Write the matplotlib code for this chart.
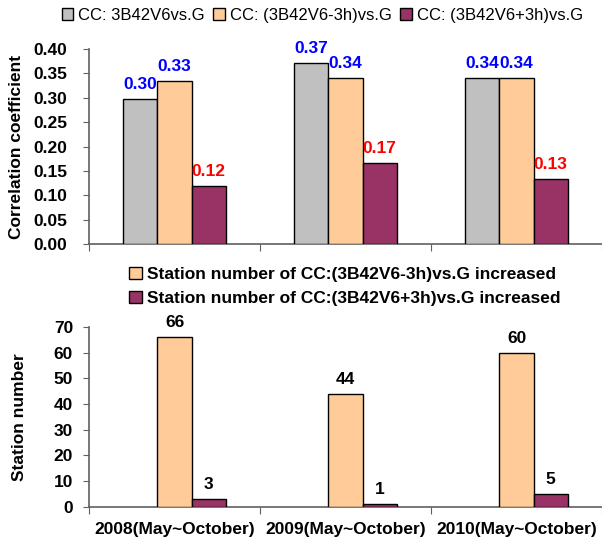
import matplotlib
matplotlib.use("Agg")
import matplotlib.pyplot as plt
import numpy as np

# data
periods = ["2008(May~October)", "2009(May~October)", "2010(May~October)"]
cc_names = ["CC: 3B42V6vs.G", "CC: (3B42V6-3h)vs.G", "CC: (3B42V6+3h)vs.G"]
cc_base = [0.298, 0.372, 0.34]
cc_minus3h = [0.334, 0.34, 0.34]
cc_plus3h = [0.12, 0.167, 0.134]
cc_text = [["0.30", "0.37", "0.34"], ["0.33", "0.34", "0.34"], ["0.12", "0.17", "0.13"]]

st_names = ["Station number of CC:(3B42V6-3h)vs.G increased",
            "Station number of CC:(3B42V6+3h)vs.G increased"]
st_minus3h = [66, 44, 60]
st_plus3h = [3, 1, 5]

colors = ["#C0C0C0", "#FFCC99", "#993366"]
label_colors = ["#0000FF", "#0000FF", "#FF0000"]

plt.rcParams['font.family'] = ['Liberation Sans Narrow', 'Liberation Sans', 'DejaVu Sans']

fig = plt.figure(figsize=(6.02, 5.39), dpi=100)
ax1 = fig.add_axes([0.148, 0.547, 0.852, 0.362])
ax2 = fig.add_axes([0.148, 0.060, 0.852, 0.333])

x = np.arange(len(periods))
w = 0.2
fs = 12.5


def style_axis(ax, ymax, step, fmt, pad):
    for s in ["top", "right"]:
        ax.spines[s].set_visible(False)
    ax.spines["bottom"].set_color("#606060")
    ax.spines["left"].set_color("#606060")
    ax.spines["bottom"].set_linewidth(1.2)
    ax.spines["left"].set_linewidth(1.2)
    ax.set_xlim(-0.5, 2.48)
    ax.set_ylim(0, ymax)
    ax.set_yticks(np.arange(0, ymax + step / 2, step))
    ax.set_yticklabels([fmt % v for v in np.arange(0, ymax + step / 2, step)],
                       fontsize=fs, fontweight="bold")
    ax.set_xticks([-0.5, 0.5, 1.5, 2.5])
    ax.set_xticks(x, minor=True)
    ax.tick_params(axis="x", which="major", length=5, direction="out", color="#606060", labelbottom=False)
    ax.tick_params(axis="x", which="minor", length=0)
    ax.tick_params(axis="y", length=4.5, direction="out", color="#606060", pad=pad)


# top chart: correlation coefficients
series = [cc_base, cc_minus3h, cc_plus3h]
for i, vals in enumerate(series):
    pos = x + (i - 1) * w
    ax1.bar(pos, vals, w, color=colors[i], edgecolor="black", linewidth=1.0,
            label=cc_names[i], zorder=3)
    for p, v, t in zip(pos, vals, cc_text[i]):
        ax1.annotate(t, (p, v), xytext=(0, 5), textcoords="offset points",
                     ha="center", va="bottom", color=label_colors[i],
                     fontsize=fs, fontweight="bold")
style_axis(ax1, 0.40, 0.05, "%.2f", 11)
ax1.set_ylabel("Correlation coefficient", fontsize=fs, fontweight="bold")
ax1.yaxis.set_label_coords(-0.127, 0.5)
ax1.legend(loc="lower center", bbox_to_anchor=(0.455, 1.1), ncol=3, frameon=False,
           fontsize=12, handlelength=0.7, handleheight=0.7, handletextpad=0.3,
           columnspacing=0.5, borderaxespad=0)

# bottom chart: station numbers
st_series = [st_minus3h, st_plus3h]
for j, vals in enumerate(st_series):
    pos = x + j * w
    ax2.bar(pos, vals, w, color=colors[j + 1], edgecolor="black", linewidth=1.0,
            label=st_names[j], zorder=3)
    for p, v in zip(pos, vals):
        ax2.annotate(str(v), (p, v), xytext=(0, 5), textcoords="offset points",
                     ha="center", va="bottom", color="black",
                     fontsize=fs, fontweight="bold")
style_axis(ax2, 70, 10, "%d", 7)
ax2.set_xticklabels(periods, minor=True, fontsize=fs, fontweight="bold")
ax2.tick_params(axis="x", which="minor", labelbottom=True, pad=11)
ax2.set_ylabel("Station number", fontsize=fs, fontweight="bold")
ax2.yaxis.set_label_coords(-0.121, 0.5)
ax2.legend(loc="lower left", bbox_to_anchor=(0.065, 1.08), ncol=1, frameon=False,
           handlelength=0.7, handleheight=0.7, handletextpad=0.3,
           labelspacing=0.5, borderaxespad=0, prop={"weight": "bold", "size": fs})

fig.savefig("out.png", dpi=100)
